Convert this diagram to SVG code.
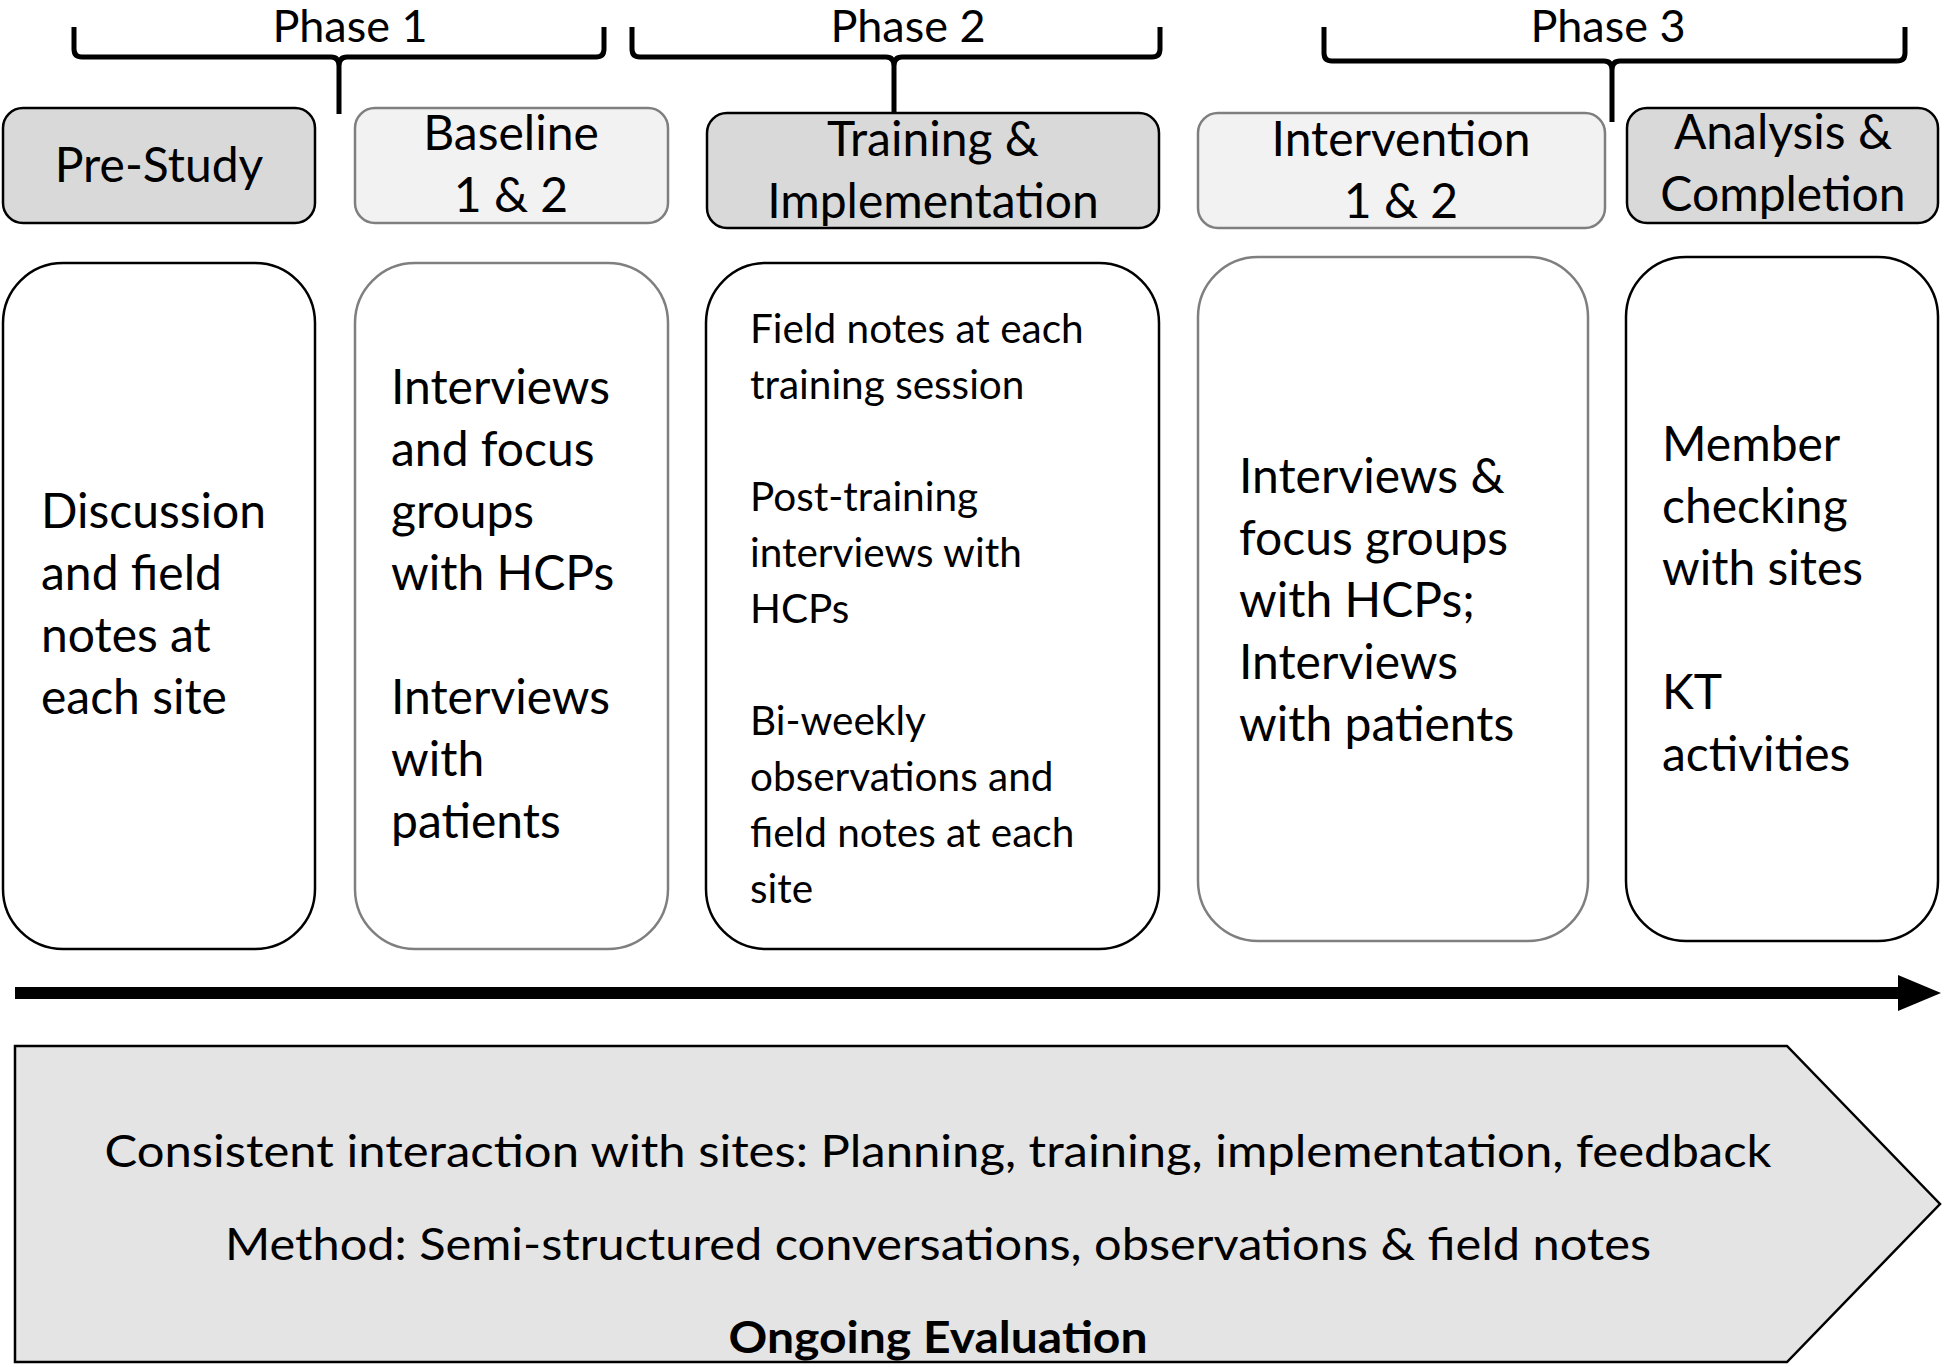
<svg xmlns="http://www.w3.org/2000/svg" width="1946" height="1367" viewBox="0 0 1946 1367">
<defs>
<style>
text{font-family:Lato,"Open Sans","Liberation Sans",sans-serif;fill:#000}
.ph{font-size:45px;text-anchor:middle}
.hd{font-size:48px;text-anchor:middle}
.bd{font-size:48px}
.sm{font-size:40.5px}
.bt{font-size:44px;text-anchor:middle}
.dark{fill:#d9d9d9;stroke:#000;stroke-width:2.5}
.light{fill:#f2f2f2;stroke:#7f7f7f;stroke-width:2.5}
.bk{fill:#fff;stroke:#000;stroke-width:2.5}
.gr{fill:#fff;stroke:#7f7f7f;stroke-width:2.5}
.br{fill:none;stroke:#000;stroke-width:5;stroke-linejoin:round}
</style>
</defs>
<rect width="1946" height="1367" fill="#fff"/>
<g id="brackets">
<path class="br" d="M74,27 V49 Q74,57 82,57 H331 Q339,57 339,66 V114 M339,66 Q339,57 347,57 H596 Q604,57 604,49 V27"/>
<path class="br" d="M632,27 V49 Q632,57 640,57 H886 Q894,57 894,66 V112 M894,66 Q894,57 902,57 H1152 Q1160,57 1160,49 V27"/>
<path class="br" d="M1324,27 V53 Q1324,61 1332,61 H1604 Q1612,61 1612,70 V122 M1612,70 Q1612,61 1620,61 H1897 Q1905,61 1905,53 V27"/>
<text class="ph" x="350" y="42">Phase 1</text>
<text class="ph" x="908" y="42">Phase 2</text>
<text class="ph" x="1608" y="42">Phase 3</text>
</g>
<g id="h-prestudy"><rect class="dark" x="3" y="108" width="312" height="115" rx="20"/><text class="hd" x="159" y="182">Pre-Study</text></g>
<g id="h-baseline"><rect class="light" x="355" y="108" width="313" height="115" rx="20"/><text class="hd" x="511" y="150">Baseline</text><text class="hd" x="511" y="212">1 &amp; 2</text></g>
<g id="h-training"><rect class="dark" x="707" y="113" width="452" height="115" rx="20"/><text class="hd" x="933" y="156">Training &amp;</text><text class="hd" x="933" y="218">Implementation</text></g>
<g id="h-intervention"><rect class="light" x="1198" y="113" width="407" height="115" rx="20"/><text class="hd" x="1401" y="156">Intervention</text><text class="hd" x="1401" y="218">1 &amp; 2</text></g>
<g id="h-analysis"><rect class="dark" x="1627" y="108" width="311" height="115" rx="20"/><text class="hd" x="1783" y="149">Analysis &amp;</text><text class="hd" x="1783" y="211">Completion</text></g>

<g id="b-prestudy"><rect class="bk" x="3" y="263" width="312" height="686" rx="60"/>
<text class="bd"><tspan x="41" y="528">Discussion</tspan><tspan x="41" y="590">and field</tspan><tspan x="41" y="652">notes at</tspan><tspan x="41" y="714">each site</tspan></text></g>
<g id="b-baseline"><rect class="gr" x="355" y="263" width="313" height="686" rx="60"/>
<text class="bd"><tspan x="391" y="404">Interviews</tspan><tspan x="391" y="466">and focus</tspan><tspan x="391" y="528">groups</tspan><tspan x="391" y="590">with HCPs</tspan><tspan x="391" y="714">Interviews</tspan><tspan x="391" y="776">with</tspan><tspan x="391" y="838">patients</tspan></text></g>
<g id="b-training"><rect class="bk" x="706" y="263" width="453" height="686" rx="60"/>
<text class="sm"><tspan x="750" y="343">Field notes at each</tspan><tspan x="750" y="399">training session</tspan><tspan x="750" y="511">Post-training</tspan><tspan x="750" y="567">interviews with</tspan><tspan x="750" y="623">HCPs</tspan><tspan x="750" y="735">Bi-weekly</tspan><tspan x="750" y="791">observations and</tspan><tspan x="750" y="847">field notes at each</tspan><tspan x="750" y="903">site</tspan></text></g>
<g id="b-intervention"><rect class="gr" x="1198" y="257" width="390" height="684" rx="60"/>
<text class="bd"><tspan x="1239" y="493">Interviews &amp;</tspan><tspan x="1239" y="555">focus groups</tspan><tspan x="1239" y="617">with HCPs;</tspan><tspan x="1239" y="679">Interviews</tspan><tspan x="1239" y="741">with patients</tspan></text></g>
<g id="b-analysis"><rect class="bk" x="1626" y="257" width="312" height="684" rx="60"/>
<text class="bd"><tspan x="1662" y="461">Member</tspan><tspan x="1662" y="523">checking</tspan><tspan x="1662" y="585">with sites</tspan><tspan x="1662" y="709">KT</tspan><tspan x="1662" y="771">activities</tspan></text></g>

<g id="connectors">
<path d="M15,993 H1902" stroke="#000" stroke-width="12"/>
<polygon points="1898,975 1941,993 1898,1011" fill="#000"/>
</g>
<g id="ongoing">
<polygon points="15,1046 1787,1046 1940,1204 1787,1362 15,1362" fill="#e4e4e4" stroke="#000" stroke-width="2.5"/>
<text class="bt" x="938" y="1167" textLength="1667" lengthAdjust="spacingAndGlyphs">Consistent interaction with sites: Planning, training, implementation, feedback</text>
<text class="bt" x="938" y="1260" textLength="1426" lengthAdjust="spacingAndGlyphs">Method: Semi-structured conversations, observations &amp; field notes</text>
<text class="bt" x="938" y="1353" font-weight="bold" textLength="419" lengthAdjust="spacingAndGlyphs">Ongoing Evaluation</text>
</g>
</svg>
